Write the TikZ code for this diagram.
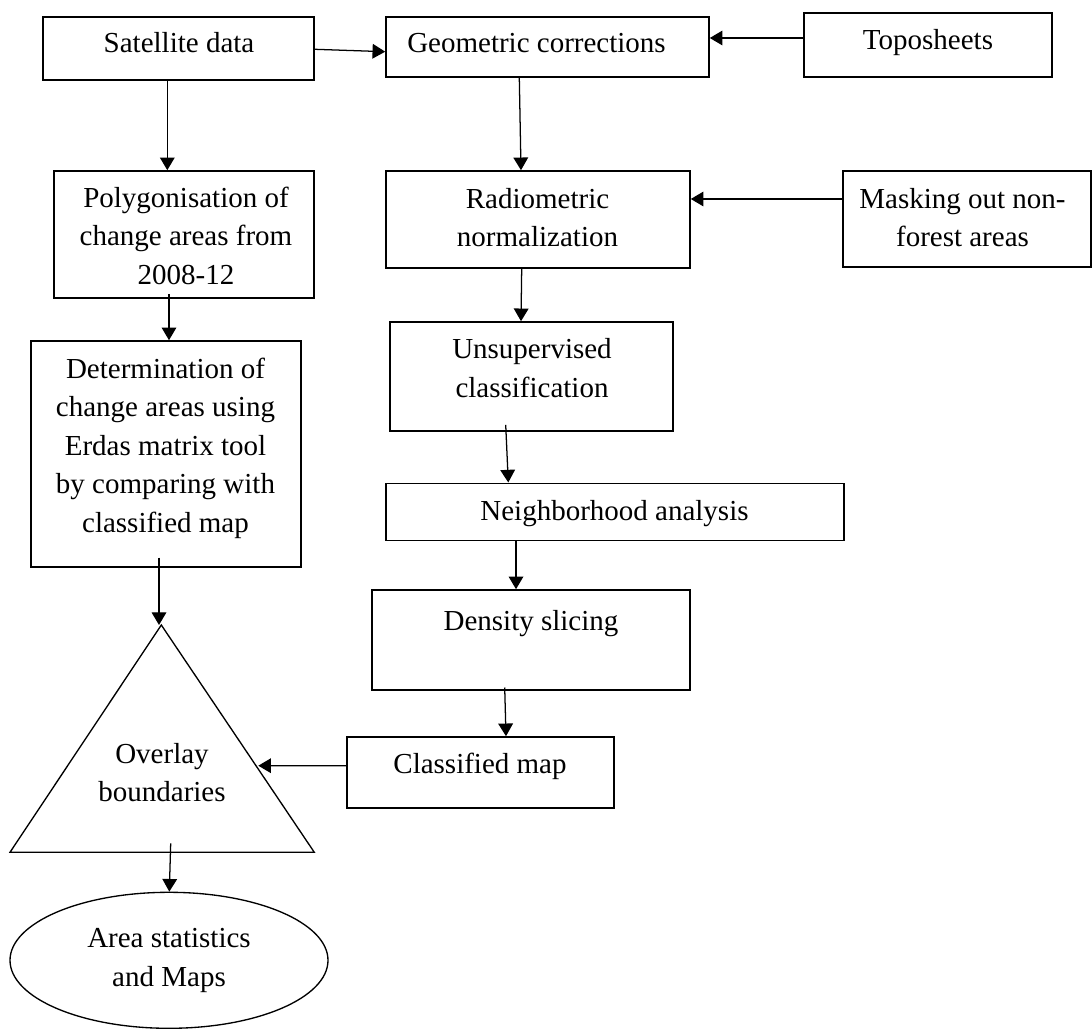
\documentclass[tikz,border=0pt]{standalone}
\usepackage{fontspec}
\setmainfont{Liberation Serif}
\usetikzlibrary{arrows.meta,shapes.geometric}
\begin{document}
\begin{tikzpicture}[x=0.75pt,y=-0.75pt,
  box/.style={draw, line width=1.2pt, inner sep=0pt, rectangle},
  txt/.style={anchor=base, align=center, inner sep=0pt, font=\fontsize{21.75pt}{28.9pt}\selectfont},
  arr/.style={-{Triangle[length=9.5pt,width=11pt]}, line width=0.95pt},
  shp/.style={line width=1pt}]
\useasboundingbox (0,0) rectangle (1092,1030);

% boxes
\node[box, minimum width=271*0.75pt, minimum height=63*0.75pt] (sat) at (178.5,48.5) {};
\node[box, minimum width=323*0.75pt, minimum height=60*0.75pt] (geo) at (547.5,47) {};
\node[box, minimum width=248*0.75pt, minimum height=64*0.75pt] (topo) at (928,45) {};
\node[box, minimum width=260*0.75pt, minimum height=127*0.75pt] (poly) at (184,234.5) {};
\node[box, minimum width=304*0.75pt, minimum height=97*0.75pt] (rad) at (538,219.5) {};
\node[box, minimum width=248*0.75pt, minimum height=96*0.75pt] (mask) at (967,219) {};
\node[box, minimum width=270*0.75pt, minimum height=226*0.75pt] (det) at (166,454) {};
\node[box, minimum width=283*0.75pt, minimum height=109*0.75pt] (uns) at (531.5,376.5) {};
\node[box, minimum width=458*0.75pt, minimum height=57*0.75pt] (nei) at (615,511.8) {};
\node[box, minimum width=318*0.75pt, minimum height=100*0.75pt] (den) at (531,640) {};
\node[box, minimum width=267*0.75pt, minimum height=71*0.75pt] (cls) at (480.5,772.5) {};

% triangle
\coordinate (triTop) at (161.3,625);
\coordinate (triBR) at (314.3,852.3);
\coordinate (triBL) at (10,852.3);
\coordinate (triR) at (258.3,765.7);
\coordinate (triBase) at (170.7,843.3);
\draw[shp] (triTop) -- (triBR) -- (triBL) -- cycle;

% ellipse
\node[draw, shp, ellipse, inner sep=0pt, minimum width=318*0.75pt, minimum height=136*0.75pt] (ell) at (169,960.3) {};

% texts (anchor base = baseline of the last line)
\node[txt] (satT) at (179,53) {Satellite data};
\node[txt] (geoT) at (536.5,53) {Geometric corrections};
\node[txt] (topoT) at (928,50) {Toposheets};
\node[txt] (polyT) at (186,284.3) {Polygonisation of\\change areas from\\2008-12};
\node[txt] (radT) at (537.5,247) {Radiometric\\normalization};
\node[txt] (maskT) at (962.5,247) {Masking out non-\\forest areas};
\node[txt] (detT) at (165.5,532.3) {Determination of\\change areas using\\Erdas matrix tool\\by comparing with\\classified map};
\node[txt] (unsT) at (532,397.3) {Unsupervised\\classification};
\node[txt] (neiT) at (614.5,520) {Neighborhood analysis};
\node[txt] (denT) at (531,630) {Density slicing};
\node[txt] (clsT) at (480,773) {Classified map};
\node[txt] (triT) at (162,801.7) {Overlay\\boundaries};
\node[txt] (ellT) at (169,986) {Area statistics\\and Maps};

% connectors
\draw[arr] ([shift={(0,0.8)}]sat.east) -- ([shift={(0,4.7)}]geo.west);
\draw[arr] ([shift={(0,-7)}]topo.west) -- ([shift={(0,-9)}]geo.east);
\draw[arr] ([shift={(-11.2,0)}]sat.south) -- ([shift={(-16.7,0)}]poly.north);
\draw[arr] ([shift={(-28.2,0)}]geo.south) -- ([shift={(-17,0)}]rad.north);
\draw[arr] ([shift={(-16.3,0)}]rad.south) -- ([shift={(-10.5,0)}]uns.north);
\draw[arr] ([shift={(0,-20)}]mask.west) -- ([shift={(0,-20.5)}]rad.east);
\draw[arr] ([shift={(-15,-5)}]poly.south) -- ([shift={(3,0)}]det.north);
\draw[arr] ([shift={(-7,-10.3)}]det.south) -- ([shift={(-2.3,0)}]triTop);
\draw[arr] ([shift={(-25.8,-7)}]uns.south) -- ([shift={(-106.7,0)}]nei.north);
\draw[arr] ([shift={(-99,0)}]nei.south) -- ([shift={(-15,0)}]den.north);
\draw[arr] ([shift={(-26.3,-3.3)}]den.south) -- ([shift={(25.5,0)}]cls.north);
\draw[arr] ([shift={(0,-6.8)}]cls.west) -- (triR);
\draw[arr] (triBase) -- ([shift={(0.3,0)}]ell.north);
\end{tikzpicture}
\end{document}
